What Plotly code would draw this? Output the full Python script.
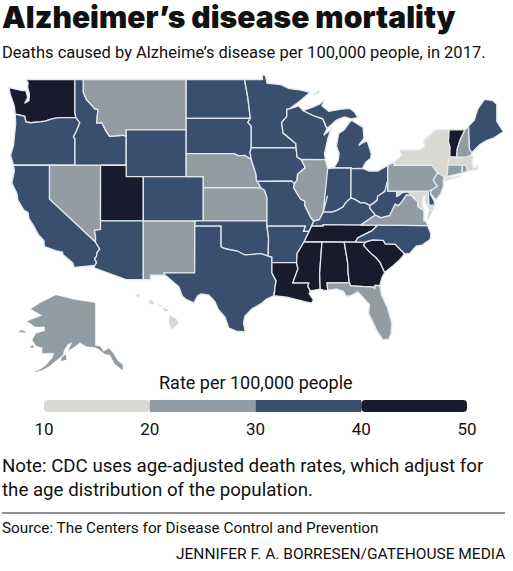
import numpy as np
import plotly.graph_objects as go

# data: rate per 100,000 (read off the map colours, so estimates inside each band)
states = ["WA", "OR", "CA", "NV", "ID", "MT", "WY", "UT", "AZ", "NM", "CO", "ND", "SD", "NE", "KS",
          "OK", "TX", "MN", "IA", "MO", "AR", "LA", "WI", "IL", "MI", "IN", "OH", "KY", "TN", "MS",
          "AL", "GA", "FL", "SC", "NC", "VA", "WV", "MD", "DE", "PA", "NJ", "NY", "CT", "RI", "MA",
          "VT", "NH", "ME", "AK", "HI"]
rates = [47, 33, 36, 26, 33, 24, 31, 46, 36, 27, 32, 36, 35, 28, 29,
         34, 38, 36, 33, 31, 39, 44, 34, 29, 37, 37, 37, 35, 45, 47,
         45, 42, 22, 44, 36, 29, 35, 18, 32, 24, 24, 13, 24, 26, 19,
         41, 27, 32, 28, 14]
legend_edges = [10, 20, 30, 40, 50]
legend_colors = ["#d9d8d3", "#929da3", "#3a4f6e", "#181a2e"]

# shared borders, lon/lat
wa_or = [(-124.0, 46.27), (-123.4, 46.2), (-122.9, 46.1), (-122.75, 45.65), (-122.2, 45.58), (-121.2, 45.65),
         (-120.5, 45.72), (-119.6, 45.92), (-119.0, 45.95), (-118.98, 46.0), (-116.92, 46.0)]
or_id = [(-116.92, 46.0), (-116.46, 45.6), (-116.85, 44.9), (-117.2, 44.4), (-117.03, 44.25), (-117.03, 42.0)]
ca_coast = [(-124.2, 42.0), (-124.1, 41.5), (-124.4, 40.44), (-123.8, 39.5), (-123.7, 38.9), (-123.0, 38.0),
            (-122.5, 37.75), (-122.4, 37.2), (-121.9, 36.6), (-121.3, 35.7), (-120.65, 35.15), (-120.6, 34.55),
            (-119.2, 34.15), (-118.5, 34.03), (-118.4, 33.75), (-117.3, 33.0), (-117.12, 32.53)]
ca_az = [(-114.63, 35.0), (-114.14, 34.3), (-114.43, 34.0), (-114.53, 33.6), (-114.72, 33.4), (-114.5, 33.0),
         (-114.72, 32.72)]
nv_az = [(-114.05, 36.2), (-114.74, 36.1), (-114.63, 35.5), (-114.63, 35.0)]
id_mt = [(-116.05, 49.0), (-116.05, 48.0), (-115.7, 47.45), (-114.7, 46.7), (-114.35, 46.65), (-114.5, 45.55),
         (-113.9, 45.6), (-113.45, 44.95), (-113.0, 44.45), (-111.5, 44.55), (-111.05, 44.48)]
nd_mn = [(-97.23, 49.0), (-96.85, 47.6), (-96.56, 45.94)]
sd_mn = [(-96.56, 45.94), (-96.85, 45.6), (-96.45, 45.3), (-96.45, 43.5)]
sd_ia = [(-96.45, 43.5), (-96.6, 43.1), (-96.45, 42.49)]
sd_ne = [(-104.05, 43.0), (-98.5, 43.0), (-97.9, 42.8), (-97.2, 42.85), (-96.45, 42.49)]
ne_ia = [(-96.45, 42.49), (-96.1, 41.7), (-95.9, 41.2), (-95.85, 40.7), (-95.77, 40.58)]
ne_mo = [(-95.77, 40.58), (-95.31, 40.0)]
ks_mo = [(-95.31, 40.0), (-94.9, 39.8), (-94.61, 39.11), (-94.62, 37.0)]
red_river = [(-100.0, 34.56), (-99.7, 34.4), (-99.2, 34.3), (-98.1, 34.13), (-97.2, 33.75), (-96.4, 33.78),
             (-95.3, 33.88), (-94.48, 33.64)]
ok_ar = [(-94.62, 36.5), (-94.43, 35.4), (-94.48, 33.64)]
tx_la = [(-94.04, 33.0), (-94.04, 32.0), (-93.55, 31.2), (-93.7, 30.5), (-93.72, 30.1), (-93.84, 29.7)]
tx_ar = [(-94.48, 33.64), (-94.04, 33.55), (-94.04, 33.0)]
tx_coast = [(-93.84, 29.7), (-94.7, 29.35), (-95.3, 28.9), (-96.4, 28.35), (-97.2, 27.6), (-97.35, 26.9),
            (-97.15, 25.96)]
rio_grande = [(-97.15, 25.96), (-98.2, 26.05), (-99.1, 26.4), (-99.5, 27.5), (-100.3, 28.3), (-100.7, 29.1),
              (-101.4, 29.77), (-102.3, 29.88), (-102.7, 29.7), (-103.15, 28.98), (-104.0, 29.3), (-104.5, 29.65),
              (-104.9, 30.6), (-106.0, 31.4), (-106.53, 31.78)]
mn_wi = [(-92.0, 46.7), (-92.3, 46.66), (-92.3, 46.1), (-92.9, 45.6), (-92.75, 44.75), (-91.25, 43.85), (-91.22, 43.5)]
ia_wi = [(-91.22, 43.5), (-91.1, 42.7), (-90.64, 42.51)]
ia_il = [(-90.64, 42.51), (-90.15, 41.8), (-91.05, 41.2), (-91.1, 40.7), (-91.42, 40.38)]
ia_mo = [(-95.77, 40.58), (-91.73, 40.61), (-91.42, 40.38)]
il_mo = [(-91.42, 40.38), (-91.5, 40.0), (-90.7, 39.0), (-90.2, 38.8), (-90.2, 38.4), (-89.5, 37.3), (-89.15, 36.98)]
il_ky = [(-89.15, 36.98), (-88.5, 37.1), (-88.05, 37.8)]
il_in = [(-88.05, 37.8), (-87.55, 39.3), (-87.53, 41.7)]
wi_mi = [(-90.42, 46.57), (-89.1, 46.13), (-88.1, 45.9), (-87.8, 45.35), (-87.6, 45.1)]
in_ky = [(-84.82, 39.1), (-85.4, 38.7), (-85.75, 38.27), (-86.5, 37.95), (-87.1, 37.8), (-88.05, 37.8)]
oh_wv = [(-80.52, 40.64), (-80.85, 39.7), (-81.7, 39.25), (-81.75, 38.9), (-82.2, 38.6), (-82.6, 38.42)]
oh_ky = [(-82.6, 38.42), (-83.2, 38.65), (-83.7, 38.65), (-84.3, 38.95), (-84.82, 39.1)]
ky_wv = [(-82.6, 38.42), (-82.6, 38.15), (-81.97, 37.54)]
ky_tn = [(-83.67, 36.6), (-88.07, 36.65), (-88.07, 36.5), (-89.42, 36.5)]
ar_east = [(-89.7, 36.0), (-90.3, 35.0), (-90.6, 34.6), (-91.1, 33.9), (-91.17, 33.0)]
ms_la = [(-91.17, 33.0), (-91.0, 32.4), (-91.6, 31.0), (-89.73, 31.0), (-89.85, 30.65), (-89.55, 30.2)]
la_coast = [(-93.84, 29.7), (-92.3, 29.55), (-91.3, 29.3), (-90.2, 29.1), (-89.4, 28.95), (-89.2, 29.3),
            (-89.7, 29.9), (-89.55, 30.2)]
ms_al = [(-88.4, 30.37), (-88.47, 31.9), (-88.2, 35.0)]
al_fl = [(-87.52, 30.28), (-87.6, 31.0), (-85.0, 31.0)]
al_ga = [(-85.0, 31.0), (-85.15, 32.0), (-85.18, 32.87), (-85.6, 34.98)]
ga_fl = [(-85.0, 31.0), (-84.86, 30.7), (-82.2, 30.57), (-82.05, 30.36), (-82.0, 30.75), (-81.45, 30.72)]
ga_sc = [(-80.88, 32.03), (-81.4, 33.0), (-81.9, 33.5), (-82.6, 34.0), (-83.35, 34.7), (-83.1, 35.0)]
sc_nc = [(-83.1, 35.0), (-82.3, 35.2), (-81.05, 35.15), (-80.8, 34.82), (-79.67, 34.8), (-78.55, 33.86)]
tn_nc = [(-84.32, 34.99), (-84.0, 35.4), (-83.1, 35.77), (-82.4, 36.05), (-81.68, 36.59)]
va_md = [(-76.3, 37.95), (-77.0, 38.3), (-77.04, 38.8), (-77.5, 39.1), (-77.72, 39.32)]
va_wv = [(-77.72, 39.32), (-78.35, 39.4), (-78.87, 38.77), (-79.3, 38.4), (-79.65, 38.55), (-80.3, 37.5),
         (-81.3, 37.3), (-81.97, 37.54)]
wv_md = [(-77.72, 39.32), (-78.2, 39.68), (-78.8, 39.6), (-79.48, 39.2), (-79.48, 39.72)]
pa_nj = [(-75.42, 39.8), (-75.05, 40.0), (-74.72, 40.15), (-75.2, 40.7), (-74.7, 41.36)]
vt_nh = [(-71.5, 45.01), (-72.05, 44.2), (-72.4, 43.4), (-72.46, 42.73)]
ny_vt = [(-73.35, 45.0), (-73.43, 44.0), (-73.25, 43.55), (-73.27, 42.75)]

shapes = {
    "WA": [[(-124.73, 48.38), (-123.2, 48.15), (-122.75, 48.15), (-122.55, 47.6), (-122.9, 47.15), (-122.4, 47.35),
            (-122.35, 47.9), (-122.55, 48.4), (-122.5, 48.75), (-122.76, 49.0), (-117.04, 49.0), (-117.04, 46.42)]
           + wa_or[::-1] + [(-124.1, 46.9), (-124.6, 47.9)]],
    "OR": [wa_or + or_id[1:] + [(-124.2, 42.0), (-124.55, 42.84), (-124.2, 43.7), (-124.07, 44.6), (-123.95, 45.5)]],
    "CA": [ca_coast + [(-114.72, 32.72)] + ca_az[::-1] + [(-120.0, 39.0), (-120.0, 42.0)]],
    "NV": [[(-120.0, 42.0), (-114.04, 42.0)] + nv_az + [(-120.0, 39.0)]],
    "ID": [[(-117.04, 49.0), (-116.05, 49.0)] + id_mt[1:] + [(-111.05, 42.0), (-117.03, 42.0)]
           + or_id[::-1][1:] + [(-117.04, 46.42)]],
    "MT": [id_mt + [(-111.05, 45.0), (-104.05, 45.0), (-104.05, 49.0)]],
    "WY": [[(-111.05, 45.0), (-104.05, 45.0), (-104.05, 41.0), (-111.05, 41.0)]],
    "UT": [[(-114.04, 42.0), (-111.05, 42.0), (-111.05, 41.0), (-109.05, 41.0), (-109.05, 37.0), (-114.05, 37.0)]],
    "AZ": [[(-114.05, 37.0), (-109.05, 37.0), (-109.05, 31.33), (-111.07, 31.33), (-114.81, 32.5)]
           + ca_az[::-1] + nv_az[::-1][1:]],
    "NM": [[(-109.05, 37.0), (-103.0, 37.0), (-103.04, 36.5), (-103.06, 32.0), (-106.62, 32.0), (-106.53, 31.78),
            (-108.21, 31.78), (-108.21, 31.33), (-109.05, 31.33)]],
    "CO": [[(-109.05, 41.0), (-102.05, 41.0), (-102.05, 37.0), (-109.05, 37.0)]],
    "ND": [[(-104.05, 49.0)] + nd_mn + [(-104.05, 45.94)]],
    "SD": [[(-104.05, 45.94)] + sd_mn + sd_ia[1:] + sd_ne[::-1][1:] + [(-104.05, 43.0)]],
    "NE": [sd_ne + ne_ia[1:] + ne_mo[1:] + [(-102.05, 40.0), (-102.05, 41.0), (-104.05, 41.0)]],
    "KS": [[(-102.05, 40.0)] + ks_mo + [(-102.05, 37.0)]],
    "OK": [[(-103.0, 37.0), (-94.62, 37.0)] + ok_ar + red_river[::-1][1:] + [(-100.0, 36.5), (-103.04, 36.5)]],
    "TX": [[(-103.04, 36.5), (-100.0, 36.5)] + red_river + tx_ar[1:] + tx_la[1:] + tx_coast[1:] + rio_grande[1:]
           + [(-106.62, 32.0), (-103.06, 32.0)]],
    "MN": [[(-97.23, 49.0), (-95.15, 49.0), (-95.15, 49.38), (-94.8, 49.3), (-94.6, 48.72), (-93.0, 48.6),
            (-92.0, 48.3), (-90.8, 48.2), (-89.6, 48.0), (-90.8, 47.3)] + mn_wi + [(-96.45, 43.5)]
           + sd_mn[::-1][1:] + nd_mn[::-1][1:]],
    "IA": [[(-96.45, 43.5), (-91.22, 43.5)] + ia_wi[1:] + ia_il[1:] + ia_mo[::-1][1:] + ne_ia[::-1][1:] + sd_ia[::-1][1:]],
    "MO": [ia_mo + il_mo[1:] + [(-89.42, 36.5), (-89.7, 36.0), (-90.37, 36.0), (-90.15, 36.5), (-94.62, 36.5)]
           + ks_mo[::-1][:-1] + ne_mo[::-1][:-1]],
    "AR": [[(-94.62, 36.5), (-90.15, 36.5), (-90.37, 36.0)] + ar_east + [(-94.04, 33.0), (-94.04, 33.55), (-94.48, 33.64)]
           + ok_ar[::-1][1:]],
    "LA": [[(-94.04, 33.0)] + ms_la + la_coast[::-1][1:] + tx_la[::-1][1:]],
    "WI": [mn_wi + ia_wi[1:] + [(-87.8, 42.49), (-87.9, 43.0), (-87.5, 44.3), (-87.05, 45.25), (-87.4, 44.9),
                                (-88.0, 44.55)] + wi_mi[::-1] + [(-90.9, 46.95)]],
    "IL": [[(-90.64, 42.51), (-87.8, 42.49), (-87.53, 41.7)] + il_in[::-1][1:] + il_ky[::-1][1:] + il_mo[::-1][1:]
           + ia_il[::-1][1:]],
    "MI": [[(-86.82, 41.76), (-86.3, 42.4), (-86.2, 43.0), (-86.5, 43.65), (-86.25, 44.7), (-85.6, 45.0), (-85.0, 45.6),
            (-84.75, 45.78), (-83.4, 45.2), (-83.3, 44.3), (-83.9, 43.7), (-83.4, 43.95), (-82.9, 44.05), (-82.45, 43.0),
            (-82.5, 42.6), (-83.1, 42.25), (-83.45, 41.73), (-84.8, 41.7), (-84.8, 41.76)],
           wi_mi + [(-86.5, 45.8), (-85.6, 46.05), (-84.75, 45.9), (-84.0, 46.0), (-84.4, 46.45), (-85.0, 46.75),
                    (-86.1, 46.67), (-87.4, 46.5), (-88.2, 46.95), (-87.9, 47.47), (-88.45, 47.1), (-89.2, 46.85)],
           [(-89.2, 47.85), (-88.5, 48.15), (-88.6, 47.95)]],
    "IN": [[(-87.53, 41.7), (-87.2, 41.75), (-86.82, 41.76), (-84.8, 41.76)] + in_ky + il_in[::-1][1:]],
    "OH": [[(-84.8, 41.7), (-83.45, 41.73), (-82.7, 41.5), (-81.7, 41.5), (-80.52, 41.98)] + oh_wv + oh_ky[1:]],
    "KY": [oh_ky + in_ky[1:] + il_ky[::-1][1:] + ky_tn[::-1] + [(-81.97, 37.54)] + ky_wv[::-1][1:]],
    "TN": [ky_tn + [(-89.7, 36.0), (-90.3, 35.0), (-88.2, 35.0), (-85.6, 34.98)] + tn_nc + [(-83.67, 36.6)]],
    "MS": [[(-90.3, 35.0), (-90.6, 34.6), (-91.1, 33.9)] + ms_la + ms_al + [(-88.2, 35.0)]],
    "AL": [[(-88.2, 35.0)] + ms_al[::-1][1:] + [(-88.0, 30.25)] + al_fl + al_ga[1:]],
    "GA": [al_ga[::-1] + ga_fl[1:] + [(-81.2, 31.5)] + ga_sc + [(-84.32, 34.99)]],
    "FL": [[(-81.45, 30.72), (-81.25, 29.8), (-80.55, 28.45), (-80.05, 26.9), (-80.13, 25.8), (-80.4, 25.2),
            (-81.1, 25.15), (-81.8, 26.1), (-82.2, 26.9), (-82.75, 27.9), (-82.65, 28.8), (-83.4, 29.5), (-84.0, 30.1),
            (-85.0, 29.65), (-85.4, 29.7), (-85.7, 30.15), (-86.5, 30.38)] + al_fl + ga_fl[1:]],
    "SC": [ga_sc + sc_nc[1:] + [(-79.2, 33.2), (-79.9, 32.7)]],
    "NC": [tn_nc + [(-75.87, 36.55), (-75.5, 35.8), (-75.55, 35.25), (-76.5, 34.7), (-77.2, 34.6), (-77.95, 33.9)]
           + sc_nc[::-1] + [(-84.32, 34.99)]],
    "VA": [[(-75.87, 36.55), (-76.0, 36.93), (-76.3, 37.0)] + va_md + va_wv[1:] + [(-83.67, 36.6), (-81.68, 36.59)],
           [(-75.95, 37.15), (-75.6, 37.95), (-75.3, 38.0), (-75.7, 37.3)]],
    "WV": [wv_md + [(-80.52, 39.72)] + oh_wv + ky_wv[1:] + va_wv[::-1][1:]],
    "MD": [[(-79.48, 39.72), (-75.79, 39.72), (-75.7, 38.46), (-75.05, 38.45), (-75.25, 38.03), (-75.65, 37.95),
            (-75.85, 38.3), (-76.2, 38.9), (-76.0, 39.4), (-76.4, 39.2), (-76.5, 38.4)] + va_md + wv_md[1:]],
    "DE": [[(-75.79, 39.72), (-75.42, 39.8), (-75.55, 39.45), (-75.1, 38.8), (-75.05, 38.45), (-75.7, 38.46)]],
    "PA": [[(-80.52, 41.98), (-79.76, 42.27), (-79.76, 42.0), (-75.35, 42.0)] + pa_nj[::-1]
           + [(-75.79, 39.72), (-80.52, 39.72)]],
    "NJ": [pa_nj + [(-73.9, 41.0), (-74.05, 40.65), (-74.0, 40.2), (-74.4, 39.4), (-74.9, 38.95), (-75.55, 39.5)]],
    "NY": [[(-79.76, 42.27), (-78.9, 42.85), (-79.05, 43.27), (-76.8, 43.3), (-76.2, 43.55), (-76.3, 44.1), (-75.0, 44.95),
            (-74.7, 45.0)] + ny_vt + [(-73.5, 42.05), (-73.55, 41.3), (-73.66, 41.0), (-74.0, 40.7), (-73.9, 41.0),
                                      (-74.7, 41.36), (-75.35, 42.0), (-79.76, 42.0)],
           [(-74.0, 40.6), (-72.0, 41.05), (-73.7, 40.87)]],
    "CT": [[(-73.5, 42.05), (-71.8, 42.02), (-71.86, 41.32), (-73.66, 41.0), (-73.55, 41.3)]],
    "RI": [[(-71.8, 42.02), (-71.38, 42.02), (-71.2, 41.5), (-71.86, 41.32)]],
    "MA": [[(-73.5, 42.05), (-71.38, 42.02), (-71.2, 41.5), (-70.65, 41.55), (-70.0, 41.65), (-69.95, 41.9), (-70.2, 42.07),
            (-70.0, 41.8), (-70.5, 41.8), (-70.7, 42.2), (-70.6, 42.65), (-70.82, 42.87), (-71.3, 42.7), (-72.46, 42.73),
            (-73.27, 42.75)]],
    "VT": [ny_vt + vt_nh[::-1]],
    "NH": [vt_nh + [(-71.3, 42.7), (-70.82, 42.87), (-70.7, 43.07), (-70.98, 43.4), (-71.08, 45.3)]],
    "ME": [[(-71.08, 45.3), (-70.4, 45.8), (-70.25, 46.2), (-70.0, 46.7), (-69.22, 47.46), (-68.3, 47.36), (-67.79, 47.07),
            (-67.79, 45.7), (-67.45, 45.3), (-67.0, 44.85), (-68.2, 44.3), (-69.0, 44.1), (-69.8, 43.75), (-70.6, 43.1),
            (-70.7, 43.07), (-70.98, 43.4)]],
    "AK": [[(-141.0, 69.65), (-145.0, 70.0), (-150.0, 70.45), (-156.6, 71.35), (-160.0, 70.4), (-163.0, 69.6), (-166.5, 68.35),
            (-164.0, 67.6), (-162.0, 66.9), (-164.0, 66.5), (-168.0, 65.65), (-165.0, 64.5), (-161.0, 64.5), (-161.0, 63.5),
            (-164.5, 63.0), (-166.0, 61.6), (-164.5, 60.3), (-162.0, 59.9), (-162.0, 58.7), (-157.2, 58.75), (-158.0, 57.6),
            (-160.5, 56.0), (-163.0, 55.0), (-164.9, 54.6), (-162.0, 55.0), (-159.5, 55.8), (-156.5, 57.0), (-154.0, 58.2),
            (-153.5, 59.3), (-152.0, 60.6), (-150.0, 61.2), (-151.5, 59.3), (-149.5, 60.0), (-147.0, 61.0), (-144.5, 60.2),
            (-141.0, 60.0), (-139.5, 59.6), (-137.0, 58.5), (-135.0, 58.3), (-133.0, 56.3), (-130.0, 55.0), (-130.0, 56.1),
            (-132.0, 57.0), (-134.0, 58.8), (-135.5, 59.7), (-137.5, 59.0), (-139.0, 60.1), (-141.0, 60.3)],
           [(-154.5, 57.0), (-152.5, 57.3), (-152.8, 58.3), (-154.2, 57.7)],
           [(-171.5, 63.4), (-168.7, 63.2), (-170.0, 63.7)],
           [(-167.0, 60.0), (-165.6, 59.9), (-165.7, 60.4)]],
    "HI": [[(-155.9, 20.25), (-155.1, 19.85), (-154.85, 19.5), (-155.65, 18.95), (-155.95, 19.5)],
           [(-156.7, 20.95), (-156.0, 20.75), (-156.4, 20.6)],
           [(-158.25, 21.55), (-157.95, 21.7), (-157.65, 21.3), (-158.1, 21.3)],
           [(-159.75, 22.1), (-159.35, 22.2), (-159.4, 21.9)],
           [(-157.2, 21.2), (-156.75, 21.15), (-157.0, 21.05)]],
}


def mercator(lat):
    return np.degrees(np.log(np.tan(np.radians(45 + np.asarray(lat) / 2))))


def band_color(v):
    for lo, hi, c in zip(legend_edges, legend_edges[1:], legend_colors):
        if lo <= v < hi:
            return c
    return legend_colors[-1]


def py(px):
    return 1 - px / 571


fig = go.Figure()

for st, val in zip(states, rates):
    xs, ys = [], []
    for ring in shapes[st]:
        ring = ring + ring[:1]
        xs += [p[0] for p in ring] + [None]
        lats = [p[1] for p in ring]
        # lower 48 and Hawaii sit on Mercator, Alaska has its own squashed inset
        ys += list(lats if st == "AK" else mercator(lats)) + [None]
    axes = {"AK": ("x2", "y2"), "HI": ("x3", "y3")}.get(st, ("x", "y"))
    # islands and coasts in the lighter states lose their pale edge on white
    edge = band_color(val) if st in ("AK", "HI") else "#e3e8ec"
    fig.add_trace(go.Scatter(x=xs, y=ys, mode="lines", fill="toself", fillcolor=band_color(val),
                             line=dict(color=edge, width=1.3 if st not in ("AK", "HI") else 0.5), name=st,
                             text=f"{st}: {val}", hoverinfo="text", xaxis=axes[0], yaxis=axes[1], showlegend=False))

# colour key
for lo, hi, c in zip(legend_edges, legend_edges[1:], legend_colors):
    # first band is drawn right to left so the rounded end lands on the outside
    flip = lo == legend_edges[0]
    fig.add_trace(go.Bar(y=[0], x=[lo - hi if flip else hi - lo], base=[hi if flip else lo], orientation="h", width=1,
                         marker=dict(color=c, line_width=0, cornerradius=4 if lo in (10, 40) else 0),
                         xaxis="x4", yaxis="y4", hoverinfo="skip", showlegend=False))

hidden = dict(visible=False, fixedrange=True)
fig.update_layout(
    template="none",
    width=513, height=571, margin=dict(l=0, r=0, t=0, b=0, pad=0),
    paper_bgcolor="white", plot_bgcolor="rgba(0,0,0,0)", barmode="overlay",
    font=dict(family="Roboto", color="#111111"),
    xaxis=dict(range=[-125.78, -65.90], domain=[0, 1], **hidden),
    yaxis=dict(range=[-1.0, 65.65], domain=[0, 1], **hidden),
    xaxis2=dict(range=[-179.0, 26.2], domain=[0, 1], overlaying="x", **hidden),
    yaxis2=dict(range=[10.9, 136.1], domain=[0, 1], overlaying="y", **hidden),
    xaxis3=dict(range=[-175.27, -116.64], domain=[0, 1], overlaying="x", **hidden),
    yaxis3=dict(range=[-4.9, 52.2], domain=[0, 1], overlaying="y", **hidden),
    xaxis4=dict(range=[10, 50], domain=[44 / 513, 467 / 513], anchor="y4", tickvals=legend_edges,
                showgrid=False, zeroline=False, showline=False, ticks="", fixedrange=True, automargin=False,
                ticklabelstandoff=5, tickfont=dict(size=17, family="Roboto", color="#111111")),
    yaxis4=dict(range=[-0.5, 0.5], domain=[py(412), py(400)], anchor="x4", **hidden),
    shapes=[dict(type="line", xref="paper", yref="paper", x0=2 / 513, x1=505 / 513, y0=py(513), y1=py(513),
                 line=dict(color="#222222", width=1.2))],
)


def label(text, x, y, size, anchor="left", **font):
    fig.add_annotation(text=text, xref="paper", yref="paper", x=x / 513, y=py(y), xanchor=anchor, yanchor="middle",
                       showarrow=False, borderpad=0, font=dict(size=size, **font))


label("Alzheimer’s disease mortality", 1, 17, 30, family="Inter", weight=900)
label("Deaths caused by Alzheime’s disease per 100,000 people, in 2017.", 1, 52, 16.5)
label("Rate per 100,000 people", 256, 382, 18, anchor="center")
label("Note: CDC uses age-adjusted death rates, which adjust for", 1, 466, 18.7)
label("the age distribution of the population.", 1, 490, 18.7)
label("Source: The Centers for Disease Control and Prevention", 1, 528, 15.3)
label("JENNIFER F. A. BORRESEN/GATEHOUSE MEDIA", 506, 554, 15.5, anchor="right")

# the page's default 8px body margin would push the 513 wide figure off the window
fig.write_html("out.html", config=dict(displayModeBar=False), post_script="document.body.style.margin = '0';")
